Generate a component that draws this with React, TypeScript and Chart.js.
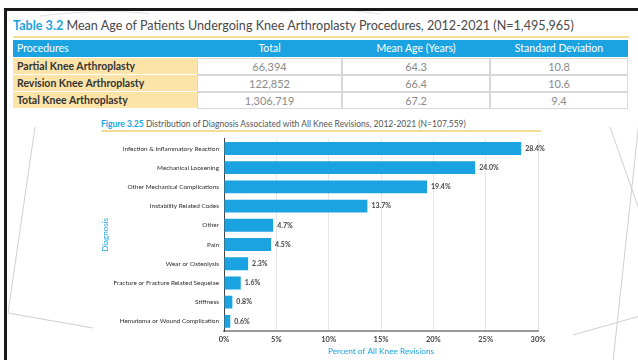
import React, { useEffect, useRef } from "react";
import { Chart, registerables } from "chart.js";
Chart.register(...registerables);

const tableTitleNum = "Table 3.2";
const tableTitleText = " Mean Age of Patients Undergoing Knee Arthroplasty Procedures, 2012-2021 (N=1,495,965)";
const tableHeaders = ["Procedures", "Total", "Mean Age (Years)", "Standard Deviation"];
const procedures = ["Partial Knee Arthroplasty", "Revision Knee Arthroplasty", "Total Knee Arthroplasty"];
const procedureTotals = ["66,394", "122,852", "1,306,719"];
const meanAges = ["64.3", "66.4", "67.2"];
const stdDevs = ["10.8", "10.6", "9.4"];

const figureNum = "Figure 3.25";
const figureText = " Distribution of Diagnosis Associated with All Knee Revisions, 2012-2021 (N=107,559)";
const diagnoses = [
  "Infection & Inflammatory Reaction",
  "Mechanical Loosening",
  "Other Mechanical Complications",
  "Instability Related Codes",
  "Other",
  "Pain",
  "Wear or Osteolysis",
  "Fracture or Fracture Related Sequelae",
  "Stiffness",
  "Hematoma or Wound Complication",
];
const percents = [28.4, 24.0, 19.4, 13.7, 4.7, 4.5, 2.3, 1.6, 0.8, 0.6];
const xTickStep = 5;
const xMax = 30;
const xTitle = "Percent of All Knee Revisions";
const yTitle = "Diagnosis";

const BLUE = "#1aa3e0";
const FONT = "Lato, 'Open Sans', sans-serif";

const colLefts = [13, 197, 342, 490];
const colWidths = [184, 145, 148, 138];

const valueLabels = {
  id: "valueLabels",
  afterDatasetsDraw(chart: any) {
    const ctx = chart.ctx;
    const meta = chart.getDatasetMeta(0);
    ctx.save();
    ctx.font = "bold 7px " + FONT;
    ctx.fillStyle = "#444";
    ctx.textAlign = "left";
    ctx.textBaseline = "middle";
    meta.data.forEach((el: any, i: number) => {
      const v = chart.data.datasets[0].data[i] as number;
      ctx.fillText(v.toFixed(1) + "%", el.x + 4, el.y);
    });
    ctx.restore();
  },
};

function BarChart() {
  const ref = useRef<HTMLCanvasElement | null>(null);
  useEffect(() => {
    if (!ref.current) return;
    const chart = new Chart(ref.current, {
      type: "bar",
      data: {
        labels: diagnoses,
        datasets: [
          {
            data: percents,
            backgroundColor: BLUE,
            barPercentage: 0.67,
            categoryPercentage: 1,
          },
        ],
      },
      options: {
        indexAxis: "y",
        animation: false,
        responsive: false,
        layout: { padding: { top: 6, left: 0, right: 30, bottom: 0 } },
        plugins: { legend: { display: false }, tooltip: { enabled: false } },
        scales: {
          x: {
            min: 0,
            max: xMax,
            afterFit: (s: any) => {
              s.height = 29;
            },
            ticks: {
              stepSize: xTickStep,
              callback: (v: any) => v + "%",
              font: { family: FONT, size: 7.5, weight: "bold" },
              color: "#444",
              padding: 4,
              maxRotation: 0,
            },
            grid: { color: "#e6e6e6", drawTicks: false },
            border: { display: true, color: "#9a9a9a", width: 2 },
            title: {
              display: true,
              text: xTitle,
              color: BLUE,
              font: { family: FONT, size: 8.3 },
              padding: { top: 0, bottom: 4 },
            },
          },
          y: {
            afterFit: (s: any) => {
              s.width = 126;
            },
            ticks: {
              font: { family: FONT, size: 6.4 },
              color: "#2a2a2a",
              padding: 5,
            },
            grid: { display: false, drawTicks: false },
            border: { display: true, color: "#444", width: 1 },
            title: {
              display: true,
              text: yTitle,
              color: BLUE,
              font: { family: FONT, size: 8 },
              padding: { top: 3, bottom: 0 },
            },
          },
        },
      },
      plugins: [valueLabels],
    });
    return () => chart.destroy();
  }, []);
  return <canvas ref={ref} width={470} height={230} style={{ position: "absolute", left: 98, top: 130 }} />;
}

export default function App() {
  const rows = procedures.map((p, i) => [p, procedureTotals[i], meanAges[i], stdDevs[i]]);
  return (
    <div
      style={{
        position: "fixed",
        left: 0,
        top: 0,
        width: 638,
        height: 360,
        background: "#fff",
        overflow: "hidden",
        fontFamily: FONT,
      }}
    >
      <svg width={638} height={360} style={{ position: "absolute", left: 0, top: 0 }}>
        <g stroke="#cfcfcf" strokeWidth={1} fill="none">
          <line x1={35} y1={127} x2={8} y2={313} />
          <line x1={8} y1={313} x2={93} y2={328} />
          <line x1={610} y1={127} x2={640} y2={212} />
          <line x1={613} y1={362} x2={640} y2={112} />
          <line x1={573} y1={335} x2={640} y2={316} />
          <path d="M 40 16 Q 110 8 150 14" stroke="#e2e2e2" />
          <path d="M 280 12 Q 330 6 380 14" stroke="#e2e2e2" />
        </g>
      </svg>
      <div
        style={{
          position: "absolute",
          left: 4,
          top: 8,
          width: 700,
          height: 400,
          borderTop: "3px solid #1a1a1a",
          borderLeft: "3px solid #1a1a1a",
        }}
      />
      <div
        style={{
          position: "absolute",
          left: 13,
          top: 18,
          fontSize: 12.6,
          whiteSpace: "nowrap",
          color: "#4a4a4a",
          lineHeight: "16px",
        }}
      >
        <span style={{ color: BLUE, fontWeight: 700 }}>{tableTitleNum}</span>
        {tableTitleText}
      </div>
      <div style={{ position: "absolute", left: 13, top: 36, width: 616, height: 2, background: "#f4dc94" }} />
      {tableHeaders.map((h, c) => (
        <div
          key={"h" + c}
          style={{
            position: "absolute",
            left: colLefts[c],
            top: 40,
            width: colWidths[c],
            height: 17,
            background: BLUE,
            color: "#fff",
            fontSize: 10.5,
            lineHeight: "17px",
            textAlign: c === 0 ? "left" : "center",
            paddingLeft: c === 0 ? 4 : 0,
            boxSizing: "border-box",
            whiteSpace: "nowrap",
          }}
        >
          {h}
        </div>
      ))}
      {rows.map((r, ri) =>
        r.map((cell, c) => (
          <div
            key={"r" + ri + "c" + c}
            style={{
              position: "absolute",
              left: colLefts[c],
              top: 58 + ri * 17,
              width: colWidths[c],
              height: 17,
              background: c === 0 ? "#fce4a8" : "#fff",
              color: c === 0 ? "#333" : "#8a8a8a",
              fontWeight: c === 0 ? 700 : 400,
              fontSize: c === 0 ? 10.5 : 11,
              lineHeight: "16px",
              textAlign: c === 0 ? "left" : "center",
              paddingLeft: c === 0 ? 4 : 0,
              boxSizing: "border-box",
              border: c === 0 ? "none" : "1px solid #d8d8d8",
              borderBottom: c === 0 ? "1px solid #fff" : "1px solid #d8d8d8",
              whiteSpace: "nowrap",
            }}
          >
            {cell}
          </div>
        ))
      )}
      <div
        style={{
          position: "absolute",
          left: 101,
          top: 119,
          fontSize: 8.5,
          whiteSpace: "nowrap",
          color: "#555",
          lineHeight: "10px",
        }}
      >
        <span style={{ color: BLUE, fontWeight: 700 }}>{figureNum}</span>
        {figureText}
      </div>
      <div style={{ position: "absolute", left: 101, top: 130, width: 440, height: 1.5, background: "#f4dc94" }} />
      <BarChart />
    </div>
  );
}
